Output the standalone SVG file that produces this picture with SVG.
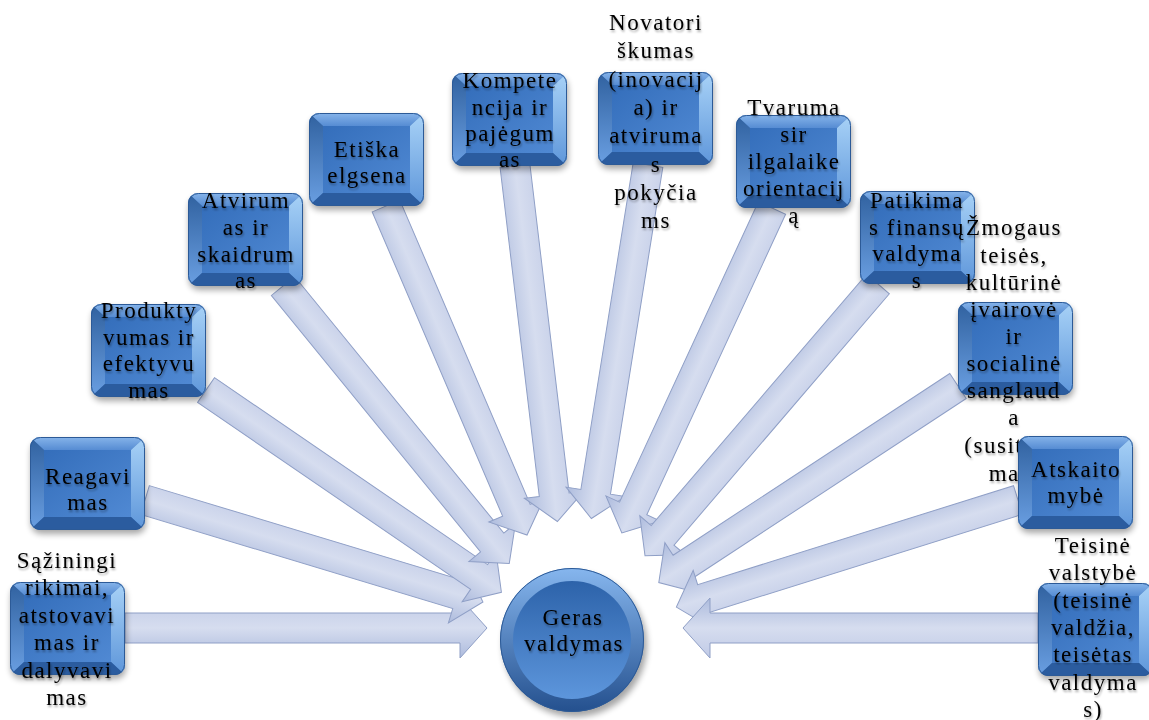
<svg xmlns="http://www.w3.org/2000/svg" xmlns:xlink="http://www.w3.org/1999/xlink" width="1149" height="720" viewBox="0 0 1149 720">
<style>
.t{font-family:"Liberation Serif","Times New Roman",serif;font-size:23px;letter-spacing:1.5px;text-anchor:middle;fill:#000;filter:url(#ts)}
.arr{fill:url(#gA);stroke:#8f9fc6;stroke-width:1}
</style>
<defs>
<filter id="sh" x="-20%" y="-20%" width="140%" height="150%"><feGaussianBlur stdDeviation="3"/></filter>
<filter id="ts" x="-10%" y="-30%" width="120%" height="160%">
<feGaussianBlur in="SourceAlpha" stdDeviation="1.2" result="b"/>
<feOffset in="b" dx="1" dy="1.5" result="o"/>
<feComponentTransfer in="o" result="s"><feFuncA type="linear" slope="0.35"/></feComponentTransfer>
<feMerge><feMergeNode in="s"/><feMergeNode in="SourceGraphic"/></feMerge>
</filter>
<linearGradient id="gA" x1="0" y1="0" x2="0" y2="1"><stop offset="0" stop-color="#c0cae6"/><stop offset="0.5" stop-color="#d6ddef"/><stop offset="1" stop-color="#adbbdd"/></linearGradient>
<linearGradient id="gT" x1="0" y1="0" x2="0" y2="1"><stop offset="0" stop-color="#86b4ea"/><stop offset="1" stop-color="#568cd3"/></linearGradient>
<linearGradient id="gL" x1="0" y1="0" x2="0" y2="1"><stop offset="0" stop-color="#30619f"/><stop offset="1" stop-color="#6a9fe2"/></linearGradient>
<linearGradient id="gR" x1="0" y1="0" x2="0" y2="1"><stop offset="0" stop-color="#a8d2f7"/><stop offset="1" stop-color="#5e96da"/></linearGradient>
<linearGradient id="gI" x1="0" y1="0" x2="1" y2="1"><stop offset="0" stop-color="#346ebb"/><stop offset="1" stop-color="#5089d3"/></linearGradient>
<linearGradient id="cOut" x1="0" y1="0" x2="0" y2="1"><stop offset="0" stop-color="#86b6ee"/><stop offset="1" stop-color="#24508e"/></linearGradient>
<linearGradient id="cIn" x1="0" y1="0" x2="0" y2="1"><stop offset="0" stop-color="#2d63aa"/><stop offset="1" stop-color="#5d96dc"/></linearGradient>
<clipPath id="cp"><rect width="115" height="93" rx="10"/></clipPath>
<g id="bx">
<rect x="1" y="4" width="115" height="93" rx="10" fill="#000" opacity=".35" filter="url(#sh)"/>
<g clip-path="url(#cp)">
<rect width="115" height="93" fill="#3f74ba"/>
<polygon points="0,0 115,0 101,13 14,13" fill="url(#gT)"/>
<polygon points="0,0 14,13 14,80 0,93" fill="url(#gL)"/>
<polygon points="115,0 101,13 101,80 115,93" fill="url(#gR)"/>
<polygon points="0,93 14,80 101,80 115,93" fill="#2b5c9f"/>
<rect x="14" y="13" width="87" height="67" fill="url(#gI)"/>
</g>
<rect x=".5" y=".5" width="114" height="92" rx="10" fill="none" stroke="#2c5a97"/>
</g>
</defs>
<rect width="1149" height="720" fill="#fff"/>
<g id="connectors">
<polygon class="arr" transform="translate(125,628)" points="0,-15 335,-15 335,-30 362,0 335,30 335,15 0,15"/>
<polygon class="arr" transform="translate(145,500) rotate(16.8)" points="0,-15 326,-15 326,-30 353,0 326,30 326,15 0,15"/>
<polygon class="arr" transform="translate(206,390) rotate(34.4)" points="0,-15 331,-15 331,-30 358,0 331,30 331,15 0,15"/>
<polygon class="arr" transform="translate(283,286) rotate(50.8)" points="0,-15 331,-15 331,-30 358,0 331,30 331,15 0,15"/>
<polygon class="arr" transform="translate(386,206) rotate(66.8)" points="0,-15 331,-15 331,-30 358,0 331,30 331,15 0,15"/>
<polygon class="arr" transform="translate(515,166) rotate(83.2)" points="0,-15 331,-15 331,-30 358,0 331,30 331,15 0,15"/>
<polygon class="arr" transform="translate(648,165) rotate(99.1)" points="0,-15 331,-15 331,-30 358,0 331,30 331,15 0,15"/>
<polygon class="arr" transform="translate(772,208) rotate(114.8)" points="0,-15 331,-15 331,-30 358,0 331,30 331,15 0,15"/>
<polygon class="arr" transform="translate(878,284) rotate(130.6)" points="0,-15 331,-15 331,-30 358,0 331,30 331,15 0,15"/>
<polygon class="arr" transform="translate(958,386) rotate(146.7)" points="0,-15 331,-15 331,-30 358,0 331,30 331,15 0,15"/>
<polygon class="arr" transform="translate(1018,500) rotate(162.6)" points="0,-15 331,-15 331,-30 358,0 331,30 331,15 0,15"/>
<polygon class="arr" transform="translate(1038,628) rotate(180)" points="0,-15 328,-15 328,-30 355,0 328,30 328,15 0,15"/>
</g>
<g id="center">
<circle cx="575" cy="645" r="72" fill="#000" opacity=".35" filter="url(#sh)"/>
<circle cx="572" cy="640" r="72" fill="url(#cOut)"/>
<circle cx="572" cy="640" r="59" fill="url(#cIn)"/>
<circle cx="572" cy="640" r="71.5" fill="none" stroke="#2c5a97"/>
<text class="t" x="573" y="625">Geras</text>
<text class="t" x="574" y="651">valdymas</text>
</g>
<g id="n1"><use xlink:href="#bx" x="10" y="582"/>
<text class="t" x="67" y="568">Sąžiningi</text><text class="t" x="67" y="595">rikimai,</text><text class="t" x="67" y="623">atstovavi</text><text class="t" x="67" y="650">mas ir</text><text class="t" x="67" y="678">dalyvavi</text><text class="t" x="67" y="705">mas</text></g>
<g id="n2"><use xlink:href="#bx" x="30" y="437"/>
<text class="t" x="88" y="484">Reagavi</text><text class="t" x="88" y="510">mas</text></g>
<g id="n3"><use xlink:href="#bx" x="91" y="304"/>
<text class="t" x="149" y="318">Produkty</text><text class="t" x="149" y="345">vumas ir</text><text class="t" x="149" y="371">efektyvu</text><text class="t" x="149" y="398">mas</text></g>
<g id="n4"><use xlink:href="#bx" x="188" y="193"/>
<text class="t" x="246" y="208">Atvirum</text><text class="t" x="246" y="235">as ir</text><text class="t" x="246" y="262">skaidrum</text><text class="t" x="246" y="288">as</text></g>
<g id="n5"><use xlink:href="#bx" x="309" y="113"/>
<text class="t" x="367" y="157">Etiška</text><text class="t" x="367" y="183">elgsena</text></g>
<g id="n6"><use xlink:href="#bx" x="452" y="73"/>
<text class="t" x="510" y="88">Kompete</text><text class="t" x="510" y="115">ncija ir</text><text class="t" x="510" y="141">pajėgum</text><text class="t" x="510" y="167">as</text></g>
<g id="n7"><use xlink:href="#bx" x="598" y="72"/>
<text class="t" x="656" y="30">Novatori</text><text class="t" x="656" y="58">škumas</text><text class="t" x="656" y="87">(inovacij</text><text class="t" x="656" y="115">a) ir</text><text class="t" x="656" y="143">atviruma</text><text class="t" x="656" y="172">s</text><text class="t" x="656" y="200">pokyčia</text><text class="t" x="656" y="228">ms</text></g>
<g id="n8"><use xlink:href="#bx" x="736" y="115"/>
<text class="t" x="794" y="115">Tvaruma</text><text class="t" x="794" y="142">sir</text><text class="t" x="794" y="169">ilgalaike</text><text class="t" x="794" y="196">orientacij</text><text class="t" x="794" y="223">ą</text></g>
<g id="n9"><use xlink:href="#bx" x="860" y="191"/>
<text class="t" x="917" y="208">Patikima</text><text class="t" x="917" y="235">s finansų</text><text class="t" x="917" y="261">valdyma</text><text class="t" x="917" y="288">s</text></g>
<g id="n10"><use xlink:href="#bx" x="958" y="302"/>
<text class="t" x="1014" y="235">Žmogaus</text><text class="t" x="1014" y="263">teisės,</text><text class="t" x="1014" y="290">kultūrinė</text><text class="t" x="1014" y="317">įvairovė</text><text class="t" x="1014" y="344">ir</text><text class="t" x="1014" y="371">socialinė</text><text class="t" x="1014" y="398">sanglaud</text><text class="t" x="1014" y="425">a</text><text class="t" x="1014" y="453">(susitelki</text><text class="t" x="1014" y="481">mas)</text></g>
<g id="n11"><use xlink:href="#bx" x="1018" y="436"/>
<text class="t" x="1076" y="477">Atskaito</text><text class="t" x="1076" y="503">mybė</text></g>
<g id="n12"><use xlink:href="#bx" x="1038" y="583"/>
<text class="t" x="1093" y="553">Teisinė</text><text class="t" x="1093" y="580">valstybė</text><text class="t" x="1093" y="608">(teisinė</text><text class="t" x="1093" y="635">valdžia,</text><text class="t" x="1093" y="662">teisėtas</text><text class="t" x="1093" y="690">valdyma</text><text class="t" x="1093" y="717">s)</text></g>
</svg>
